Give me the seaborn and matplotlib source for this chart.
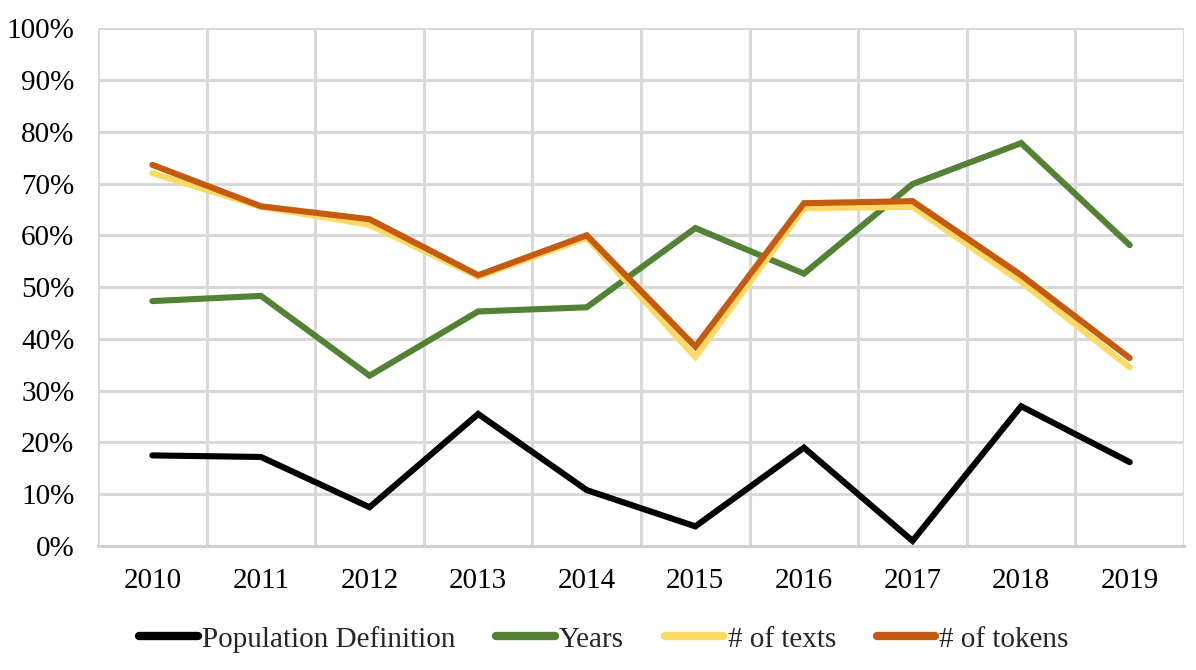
import matplotlib
matplotlib.use('Agg')
import matplotlib.pyplot as plt
import seaborn as sns
import pandas as pd
import numpy as np
from matplotlib.ticker import PercentFormatter, FixedLocator

years = ['2010', '2011', '2012', '2013', '2014', '2015', '2016', '2017', '2018', '2019']
population_definition = [17.5, 17.2, 7.5, 25.5, 10.8, 3.8, 19.0, 1.0, 27.0, 16.2]
years_series = [47.3, 48.3, 32.9, 45.3, 46.1, 61.4, 52.6, 69.9, 77.8, 58.1]
n_texts = [72.0, 65.5, 62.0, 52.0, 59.5, 36.5, 65.2, 65.5, 51.0, 34.5]
n_tokens = [73.6, 65.6, 63.1, 52.3, 60.0, 38.5, 66.2, 66.6, 52.3, 36.3]

series_names = ['Population Definition', 'Years', '# of texts', '# of tokens']
series_values = [population_definition, years_series, n_texts, n_tokens]
colores = ['#000000', '#548235', '#FFD966', '#C55A11']

df = pd.DataFrame({
    'year': years * len(series_names),
    'value': [v for vals in series_values for v in vals],
    'serie': [n for n in series_names for _ in years],
})

sns.set_style('white')
plt.rcParams['font.family'] = ['Liberation Serif', 'DejaVu Serif']

fig, ax = plt.subplots(figsize=(11.96, 6.70), dpi=100)
fig.subplots_adjust(left=0.082, right=0.990, top=0.958, bottom=0.185)

sns.lineplot(data=df, x='year', y='value', hue='serie', hue_order=series_names,
             palette=colores, linewidth=4.4, ax=ax, legend=True,
             solid_capstyle='round', solid_joinstyle='miter')

ax.set_xlim(-0.5, 9.5)
ax.set_ylim(0, 100)
ax.set_yticks(np.arange(0, 101, 10))
ax.yaxis.set_major_formatter(PercentFormatter(decimals=0))
ax.xaxis.set_minor_locator(FixedLocator(np.arange(-0.5, 10, 1)))
ax.grid(True, which='major', axis='y', color='#d9d9d9', linewidth=2.2, zorder=0)
ax.grid(True, which='minor', axis='x', color='#d9d9d9', linewidth=2.2, zorder=0)
ax.set_axisbelow(True)
for s in ['top', 'left', 'right']:
    ax.spines[s].set_visible(False)
ax.spines['bottom'].set_color('#d0d0d0')
ax.spines['bottom'].set_linewidth(2.2)
ax.tick_params(axis='both', which='both', length=0, labelsize=21, colors='black')
ax.tick_params(axis='x', pad=16)
ax.tick_params(axis='y', pad=17)
ax.set_xlabel('')
ax.set_ylabel('')

handles, labels = ax.get_legend_handles_labels()
ax.get_legend().remove()
for h in handles:
    h.set_linewidth(6)
    h.set_solid_capstyle('round')
fig.legend(handles, labels, loc='center', bbox_to_anchor=(0.505, 0.046), ncol=4,
           frameon=False, fontsize=21, handlelength=2.0, handletextpad=0.15,
           columnspacing=1.4)

fig.savefig('out.png', dpi=100)
